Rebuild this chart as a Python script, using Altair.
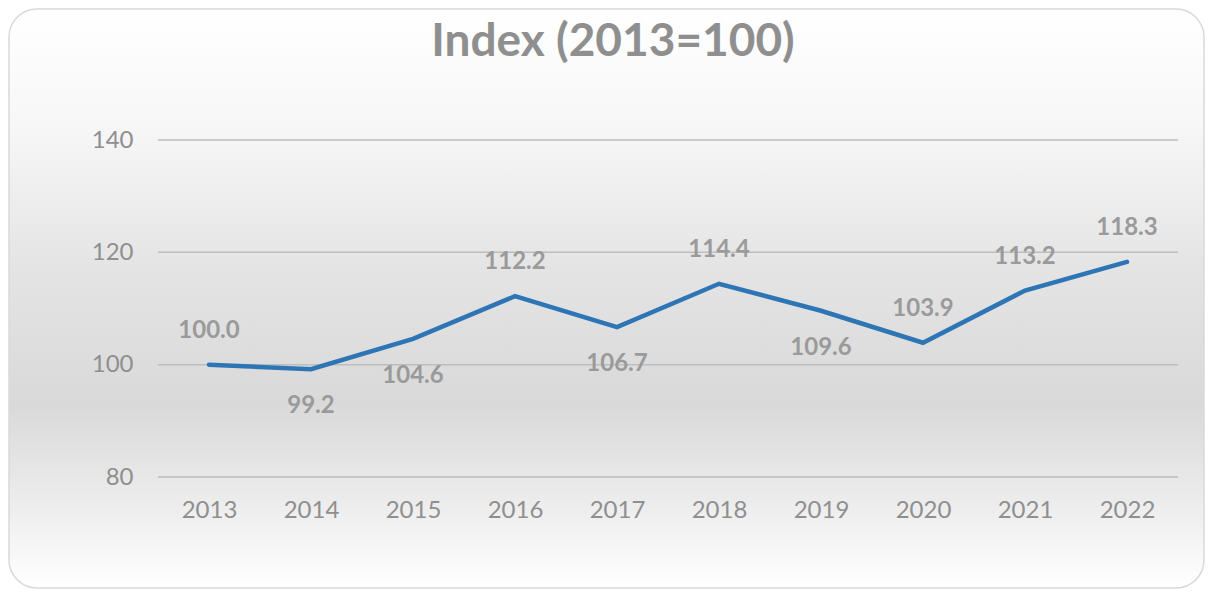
import altair as alt
import pandas as pd

years = ["2013", "2014", "2015", "2016", "2017", "2018", "2019", "2020", "2021", "2022"]
values = [100.0, 99.2, 104.6, 112.2, 106.7, 114.4, 109.6, 103.9, 113.2, 118.3]
label_side = ["above", "below", "below", "above", "below", "above", "below", "above", "above", "above"]
y_ticks = [80, 100, 120, 140]

df = pd.DataFrame({"year": years, "value": values, "side": label_side})
df["label"] = [f"{v:.1f}" for v in values]
grid_df = pd.DataFrame({"value": y_ticks})

W, H = 1020, 337
PL, PT, PR, PB = 150, 132, 27, 112
FONT = "Lato"
GRAY = "#8f8f8f"

gradient = alt.LinearGradient(
    gradient="linear", x1=0, y1=0, x2=0, y2=1,
    stops=[
        alt.GradientStop(color="#ffffff", offset=0.0),
        alt.GradientStop(color="#f7f7f7", offset=0.2),
        alt.GradientStop(color="#e4e4e4", offset=0.45),
        alt.GradientStop(color="#d9d9d9", offset=0.68),
        alt.GradientStop(color="#ececec", offset=0.85),
        alt.GradientStop(color="#ffffff", offset=1.0),
    ],
)

bg = alt.Chart(pd.DataFrame({"k": [0]})).mark_rect(
    fill=gradient, stroke="#d9d9d9", strokeWidth=1.5, cornerRadius=28
).encode(
    x=alt.value(-PL + 1), x2=alt.value(W + PR - 1),
    y=alt.value(-PT + 1), y2=alt.value(H + PB - 1),
)

yscale = alt.Scale(domain=[80, 140], nice=False, zero=False)

grid = alt.Chart(grid_df).mark_rule(color="#bdbdbd", strokeWidth=1.5).encode(
    y=alt.Y("value:Q", scale=yscale),
    x=alt.value(0), x2=alt.value(W),
)

base = alt.Chart(df).encode(
    x=alt.X("year:O", sort=years, scale=alt.Scale(type="point", padding=0.5),
            axis=alt.Axis(title=None, labelAngle=0, ticks=False, domain=False,
                          labelFontSize=24, labelColor=GRAY, labelFont=FONT,
                          labelPadding=21, grid=False, zindex=1)),
    y=alt.Y("value:Q", scale=yscale,
            axis=alt.Axis(title=None, values=y_ticks, ticks=False, domain=False,
                          labelFontSize=24, labelColor=GRAY, labelFont=FONT,
                          labelPadding=25, grid=False, zindex=1)),
)

line = base.mark_line(color="#2E75B6", strokeWidth=4.5, strokeCap="round")

above = base.transform_filter(alt.datum.side == "above").mark_text(
    dy=-34, fontSize=24, fontWeight="bold", color="#9a9a9a", font=FONT, baseline="middle"
).encode(text="label:N")
below = base.transform_filter(alt.datum.side == "below").mark_text(
    dy=37, fontSize=24, fontWeight="bold", color="#9a9a9a", font=FONT, baseline="middle"
).encode(text="label:N")

chart = alt.layer(bg, grid, line, above, below).properties(
    width=W, height=H,
    title=alt.TitleParams("Index (2013=100)", fontSize=46, fontWeight="bold",
                          color=GRAY, font=FONT, anchor="middle", dx=-55,
                          baseline="alphabetic", offset=-94, zindex=3),
    autosize=alt.AutoSizeParams(type="none"),
    padding={"left": PL, "top": PT, "right": PR, "bottom": PB},
).configure_view(stroke=None).configure(background="white")

chart.save("out.html", embed_options={"renderer": "svg", "actions": False})
